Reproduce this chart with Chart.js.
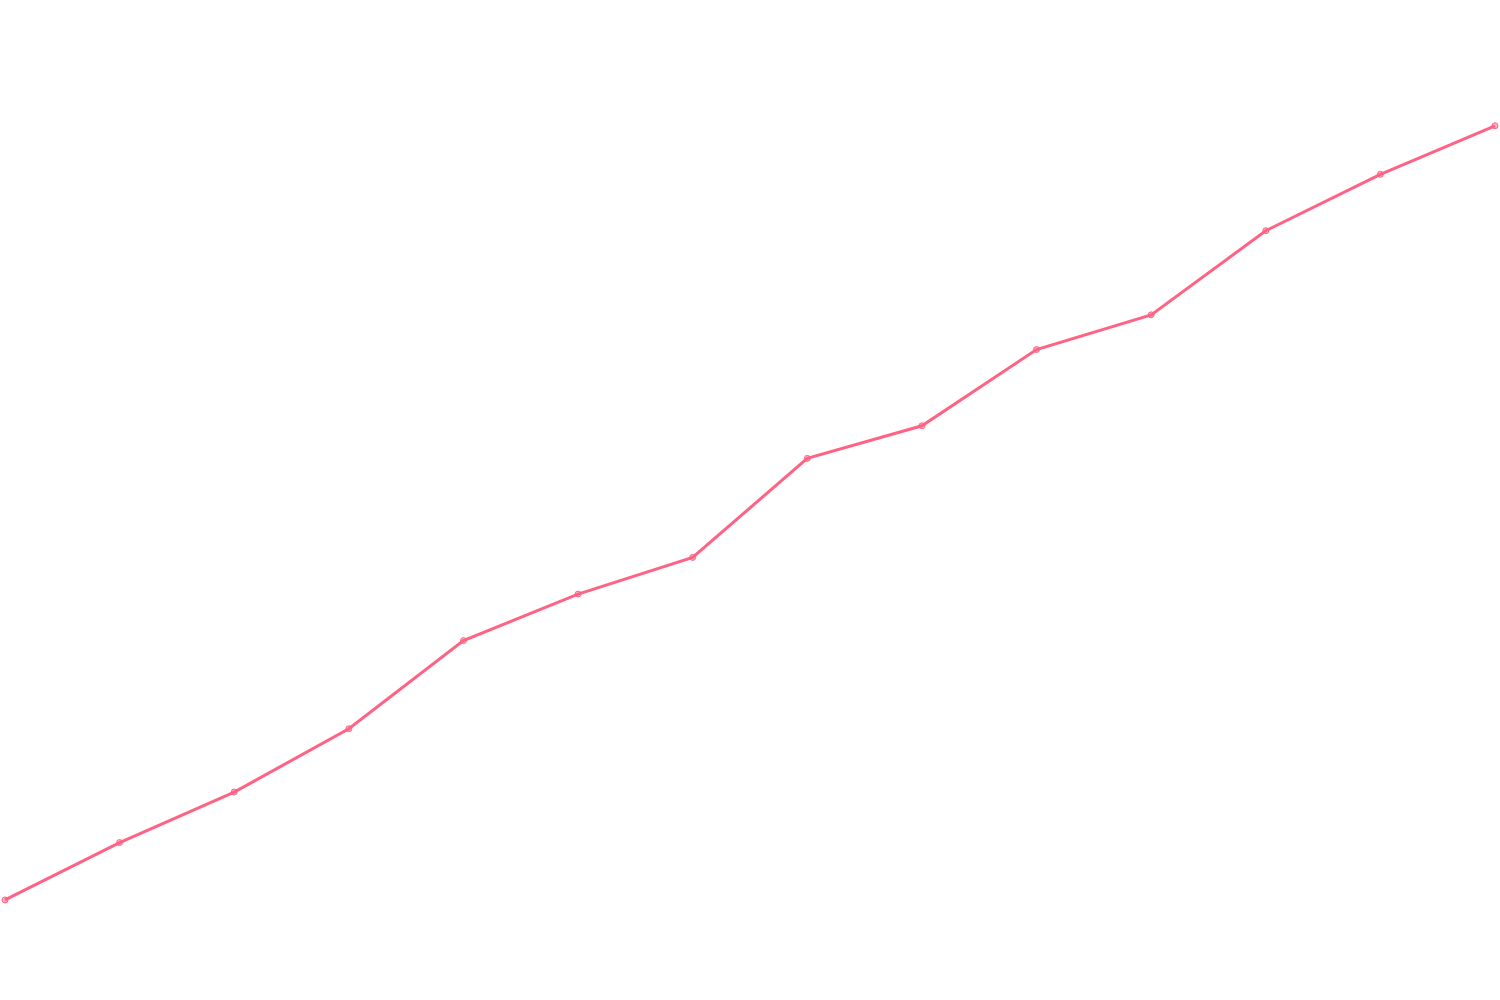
<!DOCTYPE html>
<html>
<head>
<meta charset="utf-8">
<script src="https://cdn.jsdelivr.net/npm/chart.js@4"></script>
<style>
  html, body { margin: 0; padding: 0; background: #fff; }
  #wrap { width: 1500px; height: 1000px; }
</style>
</head>
<body>
<div id="wrap"><canvas id="chart"></canvas></div>
<script>
// --- data ---
const labels = ['1', '2', '3', '4', '5', '6', '7', '8', '9', '10', '11', '12', '13', '14'];
const values = [9.6, 15.4, 20.5, 26.9, 35.8, 40.5, 44.2, 54.2, 57.5, 65.2, 68.7, 77.2, 82.9, 87.8];
const yMin = 0;
const yMax = 100;

const ctx = document.getElementById('chart').getContext('2d');
new Chart(ctx, {
  type: 'line',
  data: {
    labels: labels,
    datasets: [{
      data: values,
      borderColor: 'rgb(255, 99, 132)',
      backgroundColor: 'rgba(255, 99, 132, 0.5)',
      borderWidth: 3,
      pointRadius: 3,
      pointBorderWidth: 1,
      tension: 0
    }]
  },
  options: {
    responsive: true,
    maintainAspectRatio: false,
    animation: false,
    scales: {
      x: { display: false },
      y: { display: false, min: yMin, max: yMax }
    },
    plugins: { legend: { display: false }, tooltip: { enabled: false } }
  }
});
</script>
</body>
</html>
